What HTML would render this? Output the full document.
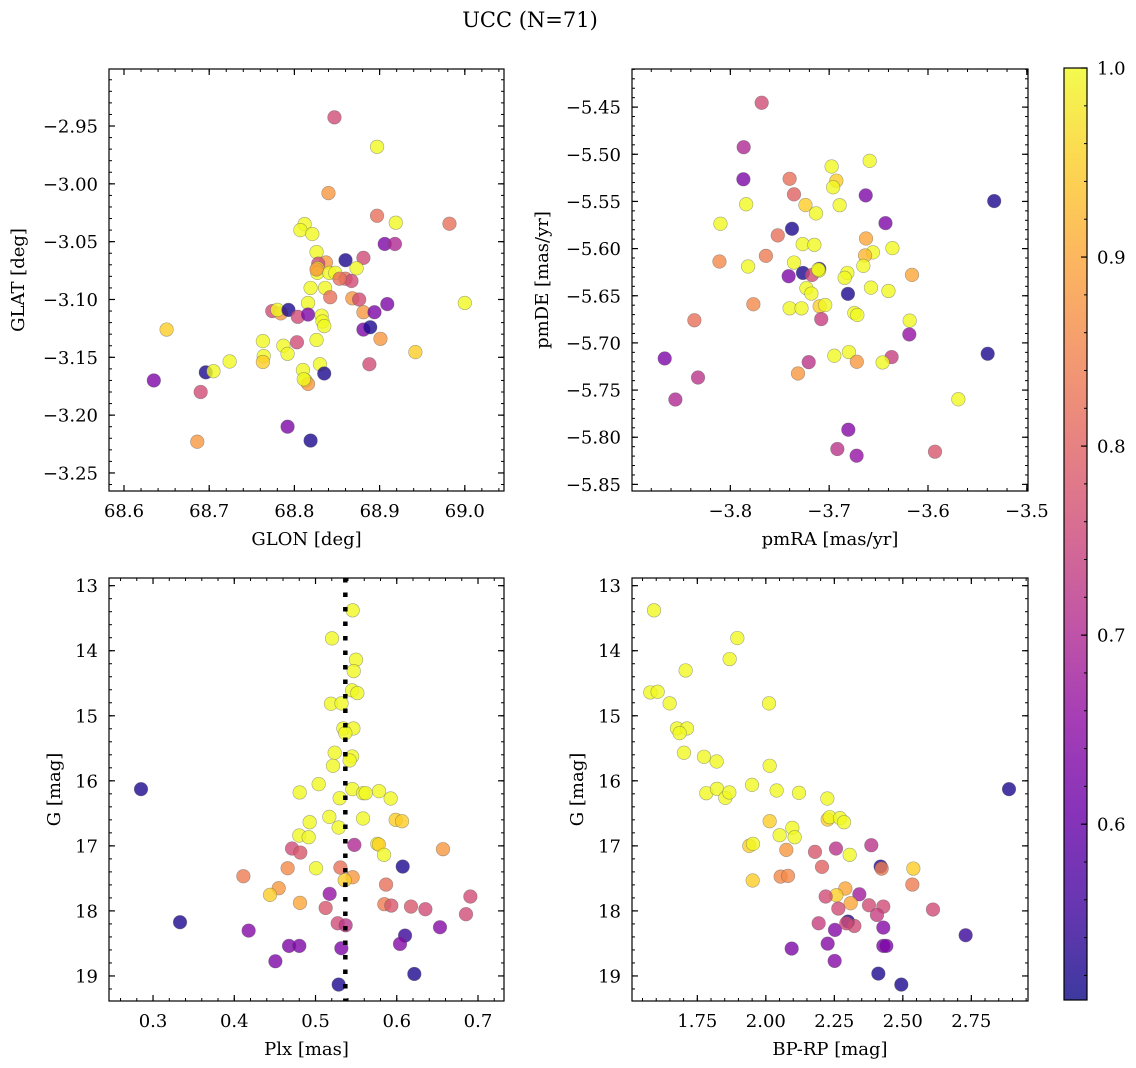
<!DOCTYPE html>
<html><head><meta charset="utf-8"><style>
html,body{margin:0;padding:0;background:#fff;}
svg{display:block;font-family:"DejaVu Serif","Liberation Serif",serif;}
</style></head><body>
<svg id="fig" width="1136" height="1068" viewBox="0 0 1136 1068" xmlns="http://www.w3.org/2000/svg">
<rect width="1136" height="1068" fill="#fff"/>
<text x="530" y="27" font-size="21" text-anchor="middle">UCC (N=71)</text>
</svg>
<script>
// ---- Panel 1: GLON / GLAT ----
const glon1=[68.847,68.897,68.840,68.897,68.919,68.982,68.812,68.807,68.821,68.906,68.918,68.826,68.860,68.881,68.837,68.828,68.827,68.873,68.827,68.841,68.848,68.860,68.867,68.819,68.836,68.842,68.868,68.876,69.0,68.909,68.816,68.774,68.784,68.780,68.793,68.804,68.816,68.881,68.894,68.832,68.833,68.835,68.881,68.889,68.650,68.901,68.763,68.803,68.826,68.787,68.792,68.764,68.763,68.942,68.724,68.696,68.705,68.830,68.835,68.888,68.810,68.635,68.813,68.816,68.690,68.792,68.819,68.686,68.811,68.826,68.853];
const glat1=[-2.9425,-2.968,-3.008,-3.0276,-3.0336,-3.0345,-3.0348,-3.040,-3.0434,-3.052,-3.052,-3.059,-3.066,-3.064,-3.068,-3.069,-3.073,-3.073,-3.077,-3.077,-3.077,-3.082,-3.084,-3.090,-3.090,-3.098,-3.099,-3.100,-3.103,-3.104,-3.103,-3.110,-3.112,-3.109,-3.109,-3.115,-3.113,-3.111,-3.111,-3.114,-3.119,-3.123,-3.126,-3.124,-3.126,-3.134,-3.136,-3.137,-3.135,-3.140,-3.147,-3.149,-3.154,-3.1455,-3.1536,-3.163,-3.162,-3.156,-3.164,-3.156,-3.161,-3.170,-3.170,-3.173,-3.180,-3.210,-3.222,-3.223,-3.169,-3.074,-3.082];
const prob1=[0.76,1,0.88,0.82,1,0.82,1,1,1,0.63,0.70,1,0.52,0.76,0.88,0.76,1,1,1,1,1,0.82,0.76,1,1,0.82,0.88,0.76,1,0.63,1,0.76,0.88,1,0.52,0.76,0.63,0.88,0.63,1,1,1,0.63,0.52,0.95,0.88,1,0.76,1,1,1,1,0.95,0.95,1,0.52,1,1,0.52,0.76,1,0.63,1,0.88,0.76,0.63,0.52,0.88,1,0.88,0.82];
// ---- Panel 2: pmRA / pmDE ----
const pmra2=[-3.7683,-3.7865,-3.7868,-3.659,-3.6975,-3.6927,-3.696,-3.740,-3.7356,-3.663,-3.533,-3.784,-3.724,-3.6894,-3.7133,-3.810,-3.643,-3.7376,-3.752,-3.7268,-3.715,-3.6627,-3.636,-3.6557,-3.6637,-3.764,-3.811,-3.782,-3.7356,-3.6654,-3.710,-3.7265,-3.7174,-3.7103,-3.6816,-3.6843,-3.6162,-3.741,-3.723,-3.718,-3.6577,-3.681,-3.640,-3.7767,-3.7096,-3.704,-3.740,-3.728,-3.6745,-3.6715,-3.708,-3.8364,-3.6185,-3.6189,-3.8664,-3.6368,-3.6948,-3.680,-3.672,-3.6459,-3.7207,-3.5396,-3.8327,-3.7315,-3.8556,-3.5693,-3.6806,-3.6917,-3.6722,-3.5929,-3.711];
const pmde2=[-5.4454,-5.4925,-5.5265,-5.507,-5.513,-5.528,-5.535,-5.526,-5.5425,-5.5436,-5.5496,-5.553,-5.5538,-5.554,-5.5627,-5.5737,-5.573,-5.579,-5.586,-5.5953,-5.596,-5.5893,-5.5995,-5.604,-5.6073,-5.6077,-5.6137,-5.619,-5.6148,-5.6183,-5.6215,-5.6258,-5.628,-5.6233,-5.6258,-5.631,-5.6279,-5.6293,-5.642,-5.6477,-5.6414,-5.648,-5.6449,-5.659,-5.6612,-5.6598,-5.6633,-5.6633,-5.6683,-5.6704,-5.6747,-5.676,-5.6764,-5.691,-5.7165,-5.715,-5.7136,-5.7097,-5.72,-5.7207,-5.7204,-5.7115,-5.7367,-5.7324,-5.760,-5.7597,-5.792,-5.8125,-5.8196,-5.8153,-5.6222];
const prob2=[0.76,0.70,0.63,1,1,0.95,1,0.82,0.80,0.63,0.52,1,0.95,1,1,1,0.63,0.52,0.82,1,1,0.90,1,1,0.92,0.84,0.86,1,1,1,0.52,0.52,0.76,1,1,1,0.90,0.63,1,1,1,0.52,1,0.86,0.95,1,1,1,1,1,0.74,0.82,1,0.66,0.63,0.74,1,1,0.88,1,0.72,0.52,0.72,0.88,0.70,1,0.64,0.72,0.66,0.78,1];
// ---- Panel 3: Plx / G ----
const plx3=[0.5457,0.5203,0.5498,0.547,0.545,0.5515,0.519,0.532,0.5343,0.5466,0.5367,0.5236,0.545,0.5215,0.542,0.2852,0.5039,0.4805,0.5453,0.5585,0.5617,0.5782,0.5297,0.5925,0.517,0.4928,0.5585,0.5987,0.6065,0.5285,0.480,0.4916,0.4711,0.4813,0.5478,0.5761,0.578,0.5843,0.6569,0.6073,0.4657,0.5006,0.5306,0.5457,0.5359,0.4112,0.4547,0.444,0.5868,0.5174,0.6906,0.4809,0.5125,0.5847,0.5933,0.6175,0.6352,0.6852,0.3332,0.5273,0.5371,0.4177,0.6532,0.6102,0.604,0.4674,0.4801,0.5318,0.4506,0.6216,0.5285];
const g3=[13.379,13.810,14.138,14.313,14.610,14.651,14.815,14.810,15.195,15.195,15.267,15.569,15.626,15.769,15.687,16.128,16.051,16.179,16.128,16.19,16.19,16.159,16.267,16.272,16.554,16.636,16.579,16.6,16.621,16.718,16.841,16.867,17.041,17.103,16.985,16.969,16.98,17.138,17.051,17.318,17.344,17.344,17.333,17.482,17.528,17.467,17.651,17.754,17.595,17.738,17.779,17.877,17.954,17.897,17.918,17.933,17.974,18.051,18.174,18.19,18.221,18.303,18.251,18.379,18.508,18.538,18.538,18.574,18.774,18.969,19.133];
const prob3=[1,1,1,1,1,1,1,1,1,1,1,1,1,1,1,0.52,1,1,1,1,1,1,1,1,1,1,1,0.95,0.95,1,1,1,0.76,0.78,0.70,1,0.95,1,0.88,0.52,0.86,1,0.82,0.88,0.95,0.84,0.88,0.95,0.82,0.66,0.76,0.90,0.78,0.84,0.78,0.78,0.76,0.76,0.52,0.76,0.72,0.64,0.64,0.55,0.64,0.63,0.63,0.63,0.63,0.52,0.52];
// ---- Panel 4: BP-RP / G ----
const bprp4=[1.5919,1.896,1.868,1.7074,1.5785,1.6052,1.649,2.0116,1.6758,1.7123,1.6855,1.7013,1.7743,1.8206,2.014,2.8875,1.9495,1.7828,1.8218,1.8522,1.8668,2.0395,2.121,2.2245,2.014,2.2257,2.233,2.2707,2.2853,2.0967,2.1052,2.0505,1.9397,1.9531,2.0748,2.1794,2.256,2.385,2.306,2.205,2.419,2.4227,2.5383,2.0541,2.0809,1.952,2.5347,2.2902,2.2573,2.2184,2.3413,2.3096,2.3765,2.4288,2.2646,2.61,2.4057,2.2999,2.1928,2.323,2.4288,2.2524,2.7293,2.2257,2.4288,2.4398,2.0943,2.2512,2.4106,2.4945,2.2938];
const g4=[13.379,13.805,14.128,14.303,14.641,14.631,14.810,14.810,15.195,15.195,15.267,15.569,15.631,15.703,15.769,16.128,16.062,16.190,16.123,16.262,16.179,16.149,16.185,16.272,16.621,16.595,16.559,16.574,16.636,16.723,16.867,16.836,17.0,16.969,17.062,17.092,17.041,16.990,17.138,17.323,17.318,17.349,17.349,17.472,17.462,17.533,17.595,17.656,17.759,17.779,17.744,17.882,17.913,17.933,17.964,17.979,18.062,18.164,18.19,18.231,18.256,18.292,18.374,18.503,18.538,18.538,18.579,18.769,18.964,19.133,18.19];
const prob4=[1,1,1,1,1,1,1,1,1,1,1,1,1,1,1,0.52,1,1,1,1,1,1,1,1,0.95,0.95,1,1,1,1,1,1,0.95,1,0.88,0.78,0.72,0.72,1,0.80,0.52,0.84,0.95,0.86,0.86,0.95,0.84,0.90,0.95,0.76,0.68,0.90,0.76,0.76,0.76,0.76,0.74,0.52,0.74,0.76,0.64,0.64,0.55,0.64,0.63,0.63,0.63,0.64,0.52,0.52,0.76];
// ---- ticks ----
const xt1=["68.6","68.7","68.8","68.9","69.0"], yt1=["−2.95","−3.00","−3.05","−3.10","−3.15","−3.20","−3.25"];
const xt2=["−3.8","−3.7","−3.6","−3.5"], yt2=["−5.45","−5.50","−5.55","−5.60","−5.65","−5.70","−5.75","−5.80","−5.85"];
const xt3=["0.3","0.4","0.5","0.6","0.7"], yt3=["13","14","15","16","17","18","19"];
const xt4=["1.75","2.00","2.25","2.50","2.75"], yt4=yt3;
const cbTicks=["0.6","0.7","0.8","0.9","1.0"];
const plxMedian=0.5367;
const cmin=0.507, cmax=1.0;

const NS="http://www.w3.org/2000/svg";
const svg=document.getElementById('fig');
const TF=18, LF=18;
function mk(tag,attrs,parent){const e=document.createElementNS(NS,tag);for(const k in attrs)e.setAttribute(k,attrs[k]);(parent||svg).appendChild(e);return e;}
const stops=[[0,[13,8,135]],[0.1,[65,4,157]],[0.2,[106,0,168]],[0.3,[143,13,164]],[0.4,[177,42,144]],[0.5,[204,71,120]],[0.6,[225,100,98]],[0.7,[242,132,75]],[0.8,[252,166,54]],[0.9,[252,206,37]],[1,[240,249,33]]];
function plasma(t){t=Math.max(0,Math.min(1,t));for(let i=1;i<stops.length;i++){if(t<=stops[i][0]){const a=stops[i-1],b=stops[i];const f=(t-a[0])/(b[0]-a[0]);const c=a[1].map((v,j)=>Math.round(v+(b[1][j]-v)*f));return `rgb(${c[0]},${c[1]},${c[2]})`;}}return 'rgb(240,249,33)';}
function cnorm(v){return (v-cmin)/(cmax-cmin);}

function panel(o){
  const g=mk('g',{});
  
  
  const sx=v=>o.L+(v-o.x0)/(o.x1-o.x0)*(o.R-o.L);
  const sy=o.inv?(v=>o.T+(v-o.y0)/(o.y1-o.y0)*(o.B-o.T)):(v=>o.B-(v-o.y0)/(o.y1-o.y0)*(o.B-o.T));
  const clip='clip-'+o.name;
  const cp=mk('clipPath',{id:clip},g);mk('rect',{x:o.L,y:o.T,width:o.R-o.L,height:o.B-o.T},cp);
  const pg=mk('g',{'clip-path':`url(#${clip})`},g);
  
  
  for(let i=0;i<o.xs.length;i++){
    const c=mk('circle',{cx:sx(o.xs[i]).toFixed(2),cy:sy(o.ys[i]).toFixed(2),r:6.8,fill:plasma(cnorm(o.cs[i])),'fill-opacity':0.8,stroke:'#555','stroke-opacity':0.5,'stroke-width':0.6},pg);
    
    
  }
  if(o.vline!==undefined){
    const l=mk('line',{x1:sx(o.vline),x2:sx(o.vline),y1:o.T,y2:o.B,stroke:'#000','stroke-width':4.5,'stroke-dasharray':'4.5 10'},pg);
    
    
  }
  const fr=mk('rect',{x:o.L,y:o.T,width:o.R-o.L,height:o.B-o.T,fill:'none',stroke:'#000','stroke-width':1.2},g);
  
  
  const eps=1e-9;
  let st=Math.ceil(o.x0/o.xmin-eps);
  for(let k=st;k*o.xmin<=o.x1+eps;k++){const x=sx(k*o.xmin);mk('line',{x1:x,x2:x,y1:o.B,y2:o.B-3,stroke:'#000','stroke-width':1},g);mk('line',{x1:x,x2:x,y1:o.T,y2:o.T+3,stroke:'#000','stroke-width':1},g);}
  st=Math.ceil(Math.min(o.y0,o.y1)/o.ymin-eps);
  for(let k=st;k*o.ymin<=Math.max(o.y0,o.y1)+eps;k++){const y=sy(k*o.ymin);mk('line',{x1:o.L,x2:o.L+3,y1:y,y2:y,stroke:'#000','stroke-width':1},g);mk('line',{x1:o.R,x2:o.R-3,y1:y,y2:y,stroke:'#000','stroke-width':1},g);}
  o.xt.forEach(s=>{const v=parseFloat(s.replace('−','-'));const x=sx(v);
    mk('line',{x1:x,x2:x,y1:o.B,y2:o.B-6,stroke:'#000','stroke-width':1.2},g);mk('line',{x1:x,x2:x,y1:o.T,y2:o.T+6,stroke:'#000','stroke-width':1.2},g);
    const t=mk('text',{x:x,y:o.B+26,'font-size':TF,'text-anchor':'middle'},g);t.textContent=s;
    
    });
  o.yt.forEach(s=>{const v=parseFloat(s.replace('−','-'));const y=sy(v);
    mk('line',{x1:o.L,x2:o.L+6,y1:y,y2:y,stroke:'#000','stroke-width':1.2},g);mk('line',{x1:o.R,x2:o.R-6,y1:y,y2:y,stroke:'#000','stroke-width':1.2},g);
    const t=mk('text',{x:o.L-11,y:y+6.5,'font-size':TF,'text-anchor':'end'},g);t.textContent=s;
    
    });
  const xl=mk('text',{x:(o.L+o.R)/2,y:o.B+54,'font-size':LF,'text-anchor':'middle'},g);xl.textContent=o.xlab;
  
  
  const yl=mk('text',{x:o.ylx,y:(o.T+o.B)/2,'font-size':LF,'text-anchor':'middle',transform:`rotate(-90 ${o.ylx} ${(o.T+o.B)/2})`},g);yl.textContent=o.ylab;
  
  
}
panel({name:'glon-glat-panel',L:109,R:504,T:69,B:491,x0:68.5824,x1:69.046,y0:-3.2656,y1:-2.9007,xs:glon1,ys:glat1,cs:prob1,xt:xt1,yt:yt1,xmin:0.02,ymin:0.01,xlab:'GLON [deg]',ylab:'GLAT [deg]',ylx:24});
panel({name:'pm-panel',L:632,R:1028,T:69,B:491,x0:-3.8995,x1:-3.4988,y0:-5.857,y1:-5.4096,xs:pmra2,ys:pmde2,cs:prob2,xt:xt2,yt:yt2,xmin:0.02,ymin:0.01,xlab:'pmRA [mas/yr]',ylab:'pmDE [mas/yr]',ylx:548});
panel({name:'plx-g-panel',L:109,R:504,T:578,B:1001,x0:0.2458,x1:0.732,y0:12.882,y1:19.385,inv:true,xs:plx3,ys:g3,cs:prob3,xt:xt3,yt:yt3,xmin:0.02,ymin:0.2,xlab:'Plx [mas]',ylab:'G [mag]',ylx:60,vline:plxMedian});
panel({name:'cmd-panel',L:632,R:1028,T:578,B:1001,x0:1.5116,x1:2.9568,y0:12.882,y1:19.385,inv:true,xs:bprp4,ys:g4,cs:prob4,xt:xt4,yt:yt4,xmin:0.05,ymin:0.2,xlab:'BP-RP [mag]',ylab:'G [mag]',ylx:583});

(function(){
  const L=1064,R=1087,T=68,B=1000;
  const cg=mk('g',{});
  
  
  const defs=mk('defs',{},cg);
  const lg=mk('linearGradient',{id:'cbg',x1:0,y1:1,x2:0,y2:0},defs);
  for(let i=0;i<=20;i++){const t=i/20;const v=cmin+t*(cmax-cmin);mk('stop',{offset:t,'stop-color':plasma(cnorm(v)),'stop-opacity':0.8},lg);}
  mk('rect',{x:L,y:T,width:R-L,height:B-T,fill:'url(#cbg)',stroke:'#000','stroke-width':1.2},cg);
  const sy=v=>B-(v-cmin)/(cmax-cmin)*(B-T);
  for(let k=Math.ceil(cmin/0.02);k*0.02<=cmax+1e-9;k++){const y=sy(k*0.02);mk('line',{x1:R,x2:R-3,y1:y,y2:y,stroke:'#000','stroke-width':1},cg);}
  cbTicks.forEach(s=>{const y=sy(parseFloat(s));mk('line',{x1:R,x2:R-6,y1:y,y2:y,stroke:'#000','stroke-width':1.2},cg);
    const t=mk('text',{x:R+10,y:y+6.5,'font-size':TF},cg);t.textContent=s;
    
    });
})();
</script>
</body></html>
